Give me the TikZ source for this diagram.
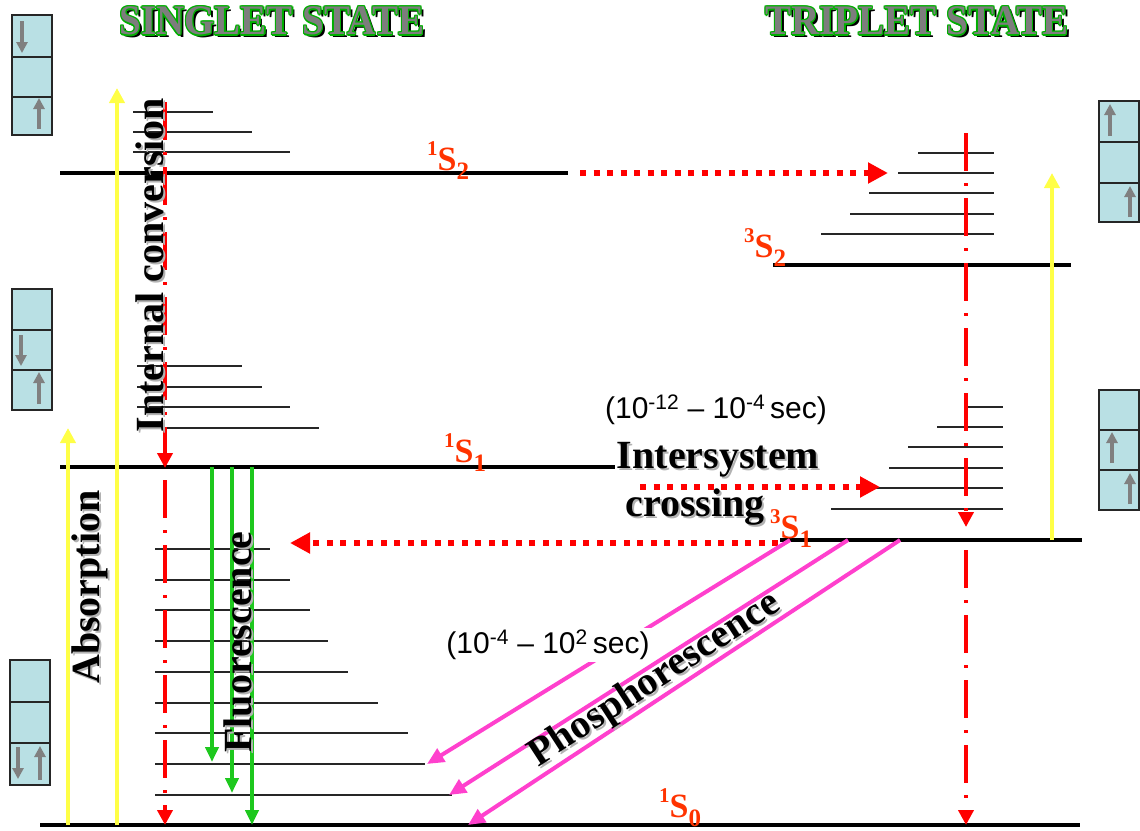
\documentclass[tikz,border=0pt]{standalone}
\usepackage{fontspec}
\setmainfont{Liberation Serif}
\newfontfamily\arialf{Liberation Sans}
\usetikzlibrary{arrows.meta,calc}
\definecolor{boxfill}{RGB}{185,224,228}
\definecolor{spingray}{RGB}{128,128,128}
\definecolor{lblred}{RGB}{255,51,0}
\definecolor{yel}{RGB}{255,255,70}
\definecolor{grn}{RGB}{30,200,30}
\definecolor{pnk}{RGB}{255,64,205}
\definecolor{ttlgreen}{RGB}{0,175,0}
\definecolor{ttlgray}{RGB}{125,125,125}
\tikzset{
 level/.style={line width=3.8pt, black},
 vib/.style={line width=1.1pt, black!85},
 cellbox/.style={draw=black!85, line width=1.5pt, fill=boxfill},
 spin/.style={line width=3.5pt, spingray, -{Triangle[width=11pt,length=11pt]}},
 absarrow/.style={line width=3.8pt, yel, -{Triangle[width=15pt,length=15pt]}},
 icarrow/.style={line width=3.8pt, red, dash pattern=on 38pt off 12pt on 3pt off 12pt, -{Triangle[width=15pt,length=15pt]}},
 iscarrow/.style={line width=6pt, red, dash pattern=on 6pt off 7.5pt, -{Triangle[width=20pt,length=20pt]}},
 fluor/.style={line width=4pt, grn, -{Triangle[width=13pt,length=15pt]}},
 phos/.style={line width=4pt, pnk, -{Triangle[width=15pt,length=17pt]}},
 titlest/.style={font=\fontsize{39}{39}\selectfont\bfseries, inner sep=0pt, yscale=1.08},
 bigtxt/.style={font=\fontsize{40}{40}\selectfont\bfseries, inner sep=0pt},
 lbl/.style={font=\fontsize{34}{34}\selectfont\bfseries, text=lblred, inner sep=0pt},
 timetxt/.style={font=\arialf\fontsize{30}{30}\selectfont, inner sep=2pt},
}
\newcommand\lvllabel[2]{\raisebox{0.42em}{\fontsize{21}{21}\selectfont #1}S\raisebox{-0.28em}{\fontsize{25}{25}\selectfont #2}}
\newcommand\fancytitle[4]{%
 \node[titlest,text=black] at (#2+3,#3+3) {#4};
 \foreach \dx/\dy in {-1.3/0,1.3/0,0/-1.3,0/1.3,-0.9/-0.9,0.9/0.9,-0.9/0.9,0.9/-0.9}
   {\node[titlest,text=ttlgreen] at (#2+\dx,#3+\dy) {#4};}
 \node[titlest,text=ttlgray] (#1) at (#2,#3) {#4};}
\newcommand\threecells[5]{%
 \draw[cellbox] (#1,#2) rectangle (#1+40,#3);
 \draw[cellbox] (#1,#3) rectangle (#1+40,#4);
 \draw[cellbox] (#1,#4) rectangle (#1+40,#5);}
\begin{document}
\begin{tikzpicture}[x=1pt,y=-1pt]
\useasboundingbox (0,0) rectangle (1140,830);
% titles
\fancytitle{singlet}{272}{21}{SINGLET STATE}
\fancytitle{triplet}{917}{21}{TRIPLET STATE}
% spin boxes
\threecells{12}{15}{57}{97}{135}
\draw[spin] (22,21) -- (22,53);
\draw[spin] (39,129) -- (39,98);
\threecells{12}{289}{330}{370}{410}
\draw[spin] (21,335) -- (21,366);
\draw[spin] (39,404) -- (39,372);
\threecells{10}{660}{702}{743}{785}
\draw[spin] (18,747) -- (18,779);
\draw[spin] (40,780) -- (40,746);
\threecells{1099}{101}{142}{183}{222}
\draw[spin] (1110,136) -- (1110,104);
\draw[spin] (1130,217) -- (1130,186);
\threecells{1099}{390}{430}{470}{510}
\draw[spin] (1112,463) -- (1112,432);
\draw[spin] (1130,504) -- (1130,473);
% vibrational levels singlet
\foreach \y/\xe in {112/213,132/252,152/290} \draw[vib] (133,\y) -- (\xe,\y);
\foreach \y/\xe in {366/242,387/262,407/290,428/319} \draw[vib] (137,\y) -- (\xe,\y);
\foreach \y/\xe in {549/270,580/290,610/310,641/328,672/348,703/378,733/408,764/425,795/452} \draw[vib] (155,\y) -- (\xe,\y);
% vibrational levels triplet
\foreach \y/\xs in {153/918,173/898,193/869,214/850,234/821} \draw[vib] (\xs,\y) -- (994,\y);
\foreach \y/\xs in {407/966,427/937,447/908,468/889,488/860,509/831} \draw[vib] (\xs,\y) -- (1003,\y);
% main levels
\coordinate (s2l) at (60,173); \coordinate (s2r) at (568,173);
\coordinate (s1l) at (60,467); \coordinate (s1r) at (615,467);
\coordinate (s0l) at (40,825); \coordinate (s0r) at (1080,825);
\coordinate (t2l) at (773,265); \coordinate (t2r) at (1071,265);
\coordinate (t1l) at (780,540); \coordinate (t1r) at (1082,540);
\draw[level] (s2l) -- (s2r);
\draw[level] (s1l) -- (s1r);
\draw[level] (s0l) -- (s0r);
\draw[level] (t2l) -- (t2r);
\draw[level] (t1l) -- (t1r);
% absorption arrows
\draw[absarrow] (68,825) -- (68,428);
\draw[absarrow] (117,825) -- (117,88);
\draw[absarrow] (1052,540) -- (1052,173);
% internal conversion
\draw[icarrow] (165,102) -- (165,468);
\draw[icarrow] (165,480) -- (165,825);
\draw[icarrow] (966,133) -- (966,527);
\draw[icarrow] (966,550) -- (966,825);
% fluorescence
\draw[fluor] (212,467) -- (212,762);
\draw[fluor] (232,467) -- (232,793);
\draw[fluor] (252,467) -- (252,825);
% intersystem crossing
\draw[iscarrow] (580,173) -- (888,173);
\draw[iscarrow] (640,487) -- (880,487);
\draw[iscarrow] (778,543) -- (290,543);
% phosphorescence
\draw[phos] (790,540) -- (427,764);
\draw[phos] (848,540) -- (449,795);
\draw[phos] (900,540) -- (468,825);
% level labels
\node[lbl, anchor=base west] (L12) at (427,170) {\lvllabel{1}{2}};
\node[lbl, anchor=base west] (L11) at (444,462) {\lvllabel{1}{1}};
\node[lbl, anchor=base west] (L10) at (659,817) {\lvllabel{1}{0}};
\node[lbl, anchor=base west] (L32) at (744,257) {\lvllabel{3}{2}};
\node[lbl, anchor=base west] (L31) at (770,538) {\lvllabel{3}{1}};
% rotated texts
\node[bigtxt, rotate=90, text=black!30] at (152,267) {Internal conversion};
\node[bigtxt, rotate=90] (ic) at (150,265) {Internal conversion};
\node[bigtxt, rotate=90, text=black!30] at (92,589) {Absorption};
\node[bigtxt, rotate=90] (abs) at (90,587) {Absorption};
\node[bigtxt, rotate=90, text=black!30] at (240,644) {Fluorescence};
\node[bigtxt, rotate=90] (fl) at (238,642) {Fluorescence};
\node[bigtxt, rotate=33, text=black!30] at (657,682) {Phosphorescence};
\node[bigtxt, rotate=33] (ph) at (655,680) {Phosphorescence};
\node[bigtxt, text=black!30] at (720,462) {Intersystem};
\node[bigtxt] (isc1) at (718,460) {Intersystem};
\node[bigtxt, text=black!30] at (697,509) {crossing};
\node[bigtxt] (isc2) at (695,507) {crossing};
% times
\node[timetxt] (t1) at (716,410) {(10\textsuperscript{-12} \textendash{} 10\textsuperscript{-4}\,sec)};
\node[timetxt, fill=white] (t2) at (548,645) {(10\textsuperscript{-4} \textendash{} 10\textsuperscript{2}\,sec)};
\end{tikzpicture}
\end{document}
